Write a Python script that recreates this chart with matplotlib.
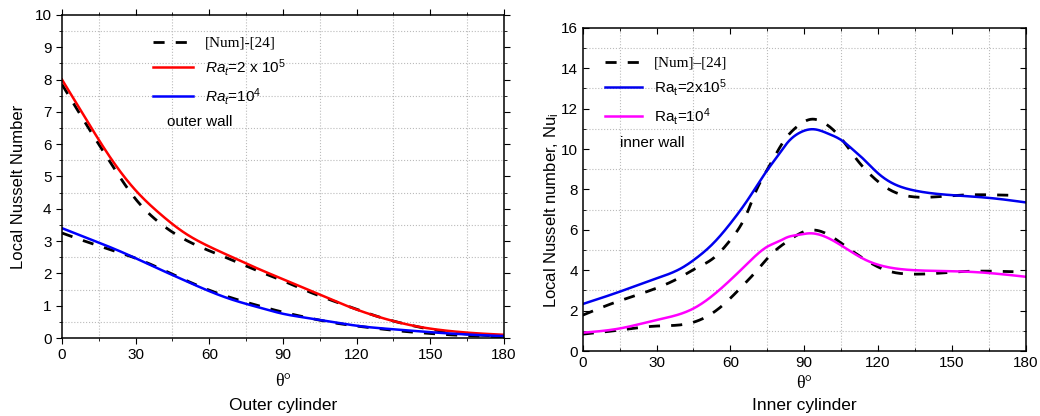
import numpy as np
import matplotlib.pyplot as plt
from matplotlib.ticker import MultipleLocator

# Outer cylinder (left panel)
th_out = [0, 10, 20, 30, 40, 50, 60, 70, 80, 90, 100, 110, 120, 130, 140, 150, 160, 170, 180]
nu_out_hi = [8.0, 6.75, 5.55, 4.57, 3.84, 3.25, 2.83, 2.48, 2.14, 1.82, 1.5, 1.18, 0.88, 0.63, 0.43, 0.29, 0.2, 0.14, 0.1]
nu_out_hi_ref = [7.85, 6.6, 5.4, 4.3, 3.55, 3.05, 2.7, 2.39, 2.07, 1.77, 1.45, 1.16, 0.89, 0.63, 0.43, 0.27, 0.16, 0.09, 0.05]
nu_out_lo = [3.4, 3.1, 2.8, 2.47, 2.12, 1.78, 1.45, 1.17, 0.95, 0.75, 0.62, 0.5, 0.38, 0.3, 0.24, 0.18, 0.13, 0.09, 0.06]
nu_out_lo_ref = [3.25, 2.98, 2.73, 2.47, 2.15, 1.8, 1.48, 1.22, 1.0, 0.8, 0.63, 0.48, 0.37, 0.28, 0.2, 0.14, 0.09, 0.06, 0.04]

# Inner cylinder (right panel)
th_in = [0, 15, 30, 40, 46, 53, 60, 67, 75, 80, 83, 88, 94, 100, 105, 110, 113, 120, 126, 134, 145, 156, 167, 180]
nu_in_hi = [2.33, 2.94, 3.6, 4.1, 4.59, 5.33, 6.32, 7.48, 8.96, 9.79, 10.29, 10.8, 10.98, 10.75, 10.45, 9.95, 9.63, 8.8, 8.3, 7.97, 7.77, 7.67, 7.56, 7.36]
th_in_hi_ref = [0, 12, 26, 40, 46, 53, 60, 67, 70, 76, 82, 86, 90, 93, 98, 105, 111, 117, 125, 134, 144, 153, 163, 175]
nu_in_hi_ref = [1.78, 2.36, 2.94, 3.68, 4.1, 4.59, 5.5, 6.9, 7.81, 9.2, 10.45, 11.0, 11.36, 11.48, 11.3, 10.53, 9.54, 8.72, 7.97, 7.64, 7.64, 7.72, 7.74, 7.71]
th_in_lo = [0, 15, 30, 45, 53, 60, 67, 75, 80, 83, 88, 92, 100, 107, 115, 123, 134, 148, 161, 180]
nu_in_lo = [0.91, 1.12, 1.54, 2.11, 2.77, 3.52, 4.34, 5.17, 5.45, 5.63, 5.76, 5.83, 5.58, 5.08, 4.51, 4.18, 4.01, 3.96, 3.9, 3.68]
th_in_lo_ref = [0, 15, 30, 42, 49, 57, 64, 71, 77, 84, 91, 100, 107, 115, 123, 134, 144, 153, 163, 175]
nu_in_lo_ref = [0.84, 1.04, 1.24, 1.34, 1.62, 2.28, 3.11, 4.02, 4.84, 5.5, 5.96, 5.75, 5.17, 4.51, 4.01, 3.81, 3.85, 3.93, 3.96, 3.93]

plt.rcParams['font.family'] = ['Liberation Sans', 'DejaVu Sans']
plt.rcParams['mathtext.fontset'] = 'custom'
plt.rcParams['mathtext.rm'] = 'Liberation Sans'
plt.rcParams['mathtext.it'] = 'Liberation Sans:italic'

fig = plt.figure(figsize=(10.4, 4.16), dpi=100)
ax1 = fig.add_axes([0.0596, 0.1875, 0.425, 0.7765])
ax2 = fig.add_axes([0.5603, 0.156, 0.426, 0.777])


def smooth(x, y, n=400):
    # natural cubic spline through the read points
    x = np.asarray(x, float)
    y = np.asarray(y, float)
    k = len(x)
    h = np.diff(x)
    A = np.zeros((k, k))
    b = np.zeros(k)
    A[0, 0] = A[-1, -1] = 1
    for i in range(1, k - 1):
        A[i, i - 1] = h[i - 1]
        A[i, i] = 2 * (h[i - 1] + h[i])
        A[i, i + 1] = h[i]
        b[i] = 6 * ((y[i + 1] - y[i]) / h[i] - (y[i] - y[i - 1]) / h[i - 1])
    M = np.linalg.solve(A, b)
    xs = np.linspace(x[0], x[-1], n)
    j = np.clip(np.searchsorted(x, xs) - 1, 0, k - 2)
    a = x[j + 1] - xs
    c = xs - x[j]
    ys = (M[j] * a**3 + M[j + 1] * c**3) / (6 * h[j]) \
        + (y[j] / h[j] - M[j] * h[j] / 6) * a + (y[j + 1] / h[j] - M[j + 1] * h[j] / 6) * c
    return xs, ys


dash = dict(color='black', lw=2, dashes=(4, 4))

# ---- left panel
ax1.plot(*smooth(th_out, nu_out_hi_ref), **dash, label='[Num]-[24]')
ax1.plot(*smooth(th_out, nu_out_lo_ref), **dash)
ax1.plot(*smooth(th_out, nu_out_hi), color='red', lw=1.8, label=r'$Ra_t$=2 x 10$^5$')
ax1.plot(*smooth(th_out, nu_out_lo), color='blue', lw=1.8, label=r'$Ra_t$=10$^4$')
ax1.set_xlim(0, 180)
ax1.set_ylim(0, 10)
ax1.xaxis.set_major_locator(MultipleLocator(30))
ax1.xaxis.set_minor_locator(MultipleLocator(15))
ax1.yaxis.set_major_locator(MultipleLocator(1))
ax1.yaxis.set_minor_locator(MultipleLocator(0.5))
ax1.set_ylabel('Local Nusselt Number', fontsize=12)
ax1.yaxis.set_label_coords(-0.082, 0.4675)
ax1.text(0.5, -0.136, 'θ°', transform=ax1.transAxes, ha='center', va='center',
         fontsize=13, family=['Liberation Serif'])
ax1.text(0.5, -0.21, 'Outer cylinder', transform=ax1.transAxes, ha='center', va='center',
         fontsize=12.5)
ax1.text(0.238, 0.669, 'outer wall', transform=ax1.transAxes, va='center', fontsize=11)
leg1 = ax1.legend(loc='upper left', bbox_to_anchor=(0.175, 0.977), frameon=False,
                  fontsize=11, handlelength=2.6, labelspacing=0.48)
leg1.get_texts()[0].set_family(['Liberation Serif'])
ax1.tick_params(which='both', direction='out')

# ---- right panel
ax2.plot(*smooth(th_in_hi_ref, nu_in_hi_ref), **dash, label='[Num]\u2013[24]')
ax2.plot(*smooth(th_in_lo_ref, nu_in_lo_ref), **dash)
ax2.plot(*smooth(th_in, nu_in_hi), color='#0000ee', lw=1.8, label=r'Ra$_\mathrm{t}$=2x10$^5$')
ax2.plot(*smooth(th_in_lo, nu_in_lo), color='magenta', lw=1.8, label=r'Ra$_\mathrm{t}$=10$^4$')
ax2.set_xlim(0, 180)
ax2.set_ylim(0, 16)
ax2.xaxis.set_major_locator(MultipleLocator(30))
ax2.xaxis.set_minor_locator(MultipleLocator(15))
ax2.yaxis.set_major_locator(MultipleLocator(2))
ax2.yaxis.set_minor_locator(MultipleLocator(1))
ax2.set_ylabel(r'Local Nusselt number, Nu$_\mathrm{i}$', fontsize=12)
ax2.yaxis.set_label_coords(-0.05, 0.4365)
ax2.text(0.5, -0.1, 'θ°', transform=ax2.transAxes, ha='center', va='center',
         fontsize=13, family=['Liberation Serif'])
ax2.text(0.5, -0.167, 'Inner cylinder', transform=ax2.transAxes, ha='center', va='center',
         fontsize=12.5)
ax2.text(0.085, 0.644, 'inner wall', transform=ax2.transAxes, va='center', fontsize=11)
leg2 = ax2.legend(loc='upper left', bbox_to_anchor=(0.02, 0.955), frameon=False,
                  fontsize=11, handlelength=2.4, labelspacing=0.48)
leg2.get_texts()[0].set_family(['Liberation Serif'])
ax2.tick_params(which='both', direction='in')

for ax in (ax1, ax2):
    ax.grid(which='minor', color='#bbbbbb', ls=':', lw=0.8)
    ax.grid(which='major', visible=False)
    ax.tick_params(which='both', labelsize=11, top=True, right=True, length=4)
    ax.tick_params(which='minor', length=2.5)
    for s in ax.spines.values():
        s.set_linewidth(1.1)

fig.savefig('out.png', dpi=100)
